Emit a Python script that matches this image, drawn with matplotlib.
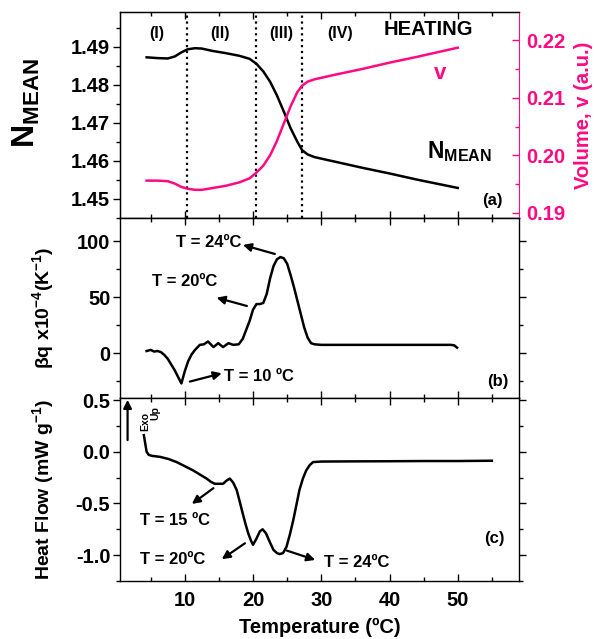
import numpy as np
import matplotlib
matplotlib.use("Agg")
import matplotlib.pyplot as plt
from matplotlib.ticker import MultipleLocator

plt.rcParams['font.family'] = ['Liberation Sans', 'DejaVu Sans']
plt.rcParams['font.weight'] = 'bold'
plt.rcParams['axes.labelweight'] = 'bold'
plt.rcParams['axes.unicode_minus'] = False
plt.rcParams['mathtext.fontset'] = 'custom'
plt.rcParams['mathtext.rm'] = 'Liberation Sans:bold'
plt.rcParams['mathtext.it'] = 'Liberation Sans:bold'
plt.rcParams['mathtext.bf'] = 'Liberation Sans:bold'

pink = '#FF0A82'

# (a) refractive index and volume on heating
T_a = [4.4, 6, 7.5, 8.5, 9.5, 10.4, 11.5, 12.5, 14, 16, 18, 19.5, 20.5, 21.5, 22.5,
       23.5, 24.5, 25.5, 26.5, 27.2, 28, 29, 32, 36, 40, 44, 47, 50]
n_mean = [1.4872, 1.4870, 1.4869, 1.4874, 1.4885, 1.4893, 1.4896, 1.4895, 1.4889, 1.4883,
          1.4876, 1.4868, 1.4855, 1.4835, 1.4808, 1.4772, 1.4730, 1.4686, 1.4650, 1.4628,
          1.4617, 1.4610, 1.4598, 1.4582, 1.4567, 1.4551, 1.4540, 1.4529]
volume = [0.1956, 0.1956, 0.1955, 0.1951, 0.1945, 0.1942, 0.1940, 0.1940, 0.1943, 0.1947,
          0.1953, 0.1960, 0.1970, 0.1982, 0.2000, 0.2025, 0.2055, 0.2085, 0.2110, 0.2121,
          0.2128, 0.2132, 0.2140, 0.2150, 0.2161, 0.2171, 0.2179, 0.2187]
region_bounds = [10.3, 20.5, 27.2]
region_names = ['(I)', '(II)', '(III)', '(IV)']

# (b) thermo-optic coefficient
T_b = [4.4, 5, 5.5, 6, 6.5, 7, 7.5, 8, 8.5, 9, 9.5, 10, 10.5, 11, 11.5, 12.2, 12.8, 13.4,
       14.2, 14.9, 15.6, 16.4, 17.1, 17.9, 18.5, 19, 19.5, 20, 20.5, 21, 21.5, 22, 22.5,
       23, 23.5, 24, 24.5, 25, 25.5, 26, 26.5, 27, 27.5, 28, 28.5, 29, 30, 35, 40, 45, 49,
       49.5, 49.9]
beta_q = [2, 3, 1.5, 2, 1, -1.5, -5, -10, -15, -21, -27, -16, -7, -1, 3, 7.5, 8, 10.5,
          5.5, 9, 5.5, 9, 7.5, 8, 13, 21, 29, 39, 44, 44, 45, 53, 67, 78, 84, 86, 85, 80,
          70, 59, 47, 35, 23, 14, 9, 8, 7.5, 7.5, 7.5, 7.5, 7.5, 7, 5]

# (c) DSC heat flow
T_c = [4.0, 4.2, 4.4, 4.7, 5.2, 6.4, 7.6, 8.8, 10.0, 11.2, 12.2, 13.2, 13.8, 14.4, 15.0,
       15.6, 16.1, 16.6, 17.1, 17.6, 18.0, 18.5, 18.9, 19.3, 19.7, 20.0, 20.5, 21.0, 21.4,
       21.9, 22.5, 23.0, 23.5, 23.9, 24.4, 24.9, 25.4, 25.9, 26.4, 26.8, 27.3, 27.8, 28.3,
       28.8, 30, 35, 40, 45, 50, 55]
heat_flow = [0.16, 0.08, 0.0, -0.03, -0.04, -0.05, -0.07, -0.10, -0.14, -0.18, -0.22, -0.26,
             -0.29, -0.31, -0.31, -0.31, -0.28, -0.26, -0.30, -0.37, -0.47, -0.60, -0.70,
             -0.79, -0.86, -0.90, -0.84, -0.77, -0.75, -0.79, -0.88, -0.95, -0.98, -0.99,
             -0.98, -0.92, -0.80, -0.66, -0.50, -0.37, -0.26, -0.18, -0.13, -0.10, -0.095,
             -0.093, -0.092, -0.09, -0.09, -0.087]

fig = plt.figure(figsize=(5.94, 6.39), dpi=100)
L, W = 0.202, 0.672
ax_a = fig.add_axes([L, 0.6588, W, 0.3224])
ax_b = fig.add_axes([L, 0.3772, W, 0.2817], sharex=ax_a)
ax_c = fig.add_axes([L, 0.0908, W, 0.2864], sharex=ax_a)

fs_tick = 14.5
for ax in (ax_a, ax_b, ax_c):
    ax.tick_params(axis='x', which='both', direction='in', top=True, bottom=True,
                   labelsize=fs_tick, pad=7)
    ax.tick_params(axis='x', which='major', length=5, width=1)
    ax.tick_params(axis='x', which='minor', length=3, width=1)
    ax.tick_params(axis='y', which='both', direction='out', left=True, right=False,
                   labelsize=fs_tick, pad=2)
    ax.tick_params(axis='y', which='major', length=5, width=1)
    ax.tick_params(axis='y', which='minor', length=3, width=1)
    ax.xaxis.set_major_locator(MultipleLocator(10))
    ax.xaxis.set_minor_locator(MultipleLocator(5))
    for s in ax.spines.values():
        s.set_linewidth(1)

ax_a.tick_params(axis='x', labelbottom=False)
ax_b.tick_params(axis='x', labelbottom=False)
ax_b.tick_params(axis='y', which='both', right=True)
ax_c.tick_params(axis='y', which='both', right=True)
ax_a.set_xlim(0.5, 59)

# panel (a)
ax_a.plot(T_a, n_mean, color='black', lw=1.8)
ax_a.set_ylim(1.445, 1.4991)
ax_a.yaxis.set_major_locator(MultipleLocator(0.01))
ax_a.yaxis.set_minor_locator(MultipleLocator(0.005))
for xb in region_bounds:
    ax_a.axvline(xb, color='black', ls=':', lw=1.6)
ax_a.set_ylabel(r'$\mathregular{N_{MEAN}}$', fontsize=23, va='center')
ax_a.yaxis.set_label_coords(-0.235, 0.56)
ax_a.spines['right'].set_visible(False)

ax_v = ax_a.twinx()
ax_v.plot(T_a, volume, color=pink, lw=1.8)
ax_v.set_ylim(0.1891, 0.2249)
ax_v.yaxis.set_major_locator(MultipleLocator(0.01))
ax_v.yaxis.set_minor_locator(MultipleLocator(0.005))
ax_v.tick_params(axis='y', which='both', direction='in', colors=pink, labelsize=fs_tick, pad=5)
ax_v.tick_params(axis='y', which='major', length=5, width=1)
ax_v.tick_params(axis='y', which='minor', length=3, width=1)
ax_v.spines['right'].set_color(pink)
ax_v.set_ylabel('Volume, v (a.u.)', color=pink, fontsize=14.5, va='center', rotation=90)
ax_v.yaxis.set_label_coords(1.16, 0.5)

for name, xf in zip(region_names, [0.093, 0.251, 0.405, 0.551]):
    ax_a.text(xf, 0.897, name, transform=ax_a.transAxes, ha='center', va='center', fontsize=11.5)
ax_a.text(0.772, 0.913, 'HEATING', transform=ax_a.transAxes, ha='center', va='center', fontsize=14.5)
ax_a.text(0.802, 0.70, 'v', transform=ax_a.transAxes, ha='center', va='center', fontsize=16, color=pink)
ax_a.text(0.769, 0.29, r'$\mathregular{N_{MEAN}}$', transform=ax_a.transAxes, ha='left',
          va='baseline', fontsize=16.5)
ax_a.text(0.932, 0.087, '(a)', transform=ax_a.transAxes, ha='center', va='center', fontsize=12)

# panel (b)
ax_b.plot(T_b, beta_q, color='black', lw=1.8)
ax_b.set_ylim(-40, 121)
ax_b.yaxis.set_major_locator(MultipleLocator(50))
ax_b.yaxis.set_minor_locator(MultipleLocator(25))
ax_b.tick_params(axis='y', which='both', labelright=False)
ax_b.set_ylabel(r'βq x10$^{-4}$(K$^{-1}$)', fontsize=14, va='center')
ax_b.yaxis.set_label_coords(-0.193, 0.5)

arrow = dict(arrowstyle='-|>', color='black', lw=1.6, mutation_scale=12, shrinkA=0, shrinkB=0)
ax_b.text(0.221, 0.863, 'T = 24ºC', transform=ax_b.transAxes, ha='center', va='center', fontsize=12)
ax_b.annotate('', xy=(0.308, 0.85), xytext=(0.388, 0.80), xycoords='axes fraction', arrowprops=arrow)
ax_b.text(0.161, 0.646, 'T = 20ºC', transform=ax_b.transAxes, ha='center', va='center', fontsize=12)
ax_b.annotate('', xy=(0.242, 0.557), xytext=(0.318, 0.511), xycoords='axes fraction', arrowprops=arrow)
ax_b.text(0.348, 0.118, 'T = 10 ºC', transform=ax_b.transAxes, ha='center', va='center', fontsize=12)
ax_b.annotate('', xy=(0.255, 0.137), xytext=(0.175, 0.091), xycoords='axes fraction', arrowprops=arrow)
ax_b.text(0.947, 0.091, '(b)', transform=ax_b.transAxes, ha='center', va='center', fontsize=12)

# panel (c)
ax_c.plot(T_c, heat_flow, color='black', lw=1.8)
ax_c.set_ylim(-1.25, 0.52)
ax_c.yaxis.set_major_locator(MultipleLocator(0.5))
ax_c.yaxis.set_minor_locator(MultipleLocator(0.25))
ax_c.tick_params(axis='y', which='both', labelright=False)
ax_c.set_ylabel('Heat Flow (mW g$^{-1}$)', fontsize=14, va='center')
ax_c.yaxis.set_label_coords(-0.193, 0.5)
ax_c.set_xlabel('Temperature (ºC)', fontsize=14.5, va='center')
ax_c.xaxis.set_label_coords(0.5, -0.252)

ax_c.annotate('', xy=(0.019, 0.99), xytext=(0.019, 0.77), xycoords='axes fraction', arrowprops=arrow)
ax_c.text(0.063, 0.871, 'Exo', transform=ax_c.transAxes, ha='center', va='center', fontsize=7.5, rotation=90)
ax_c.text(0.088, 0.920, 'Up', transform=ax_c.transAxes, ha='center', va='center', fontsize=7.5, rotation=90)
ax_c.text(0.137, 0.333, 'T = 15 ºC', transform=ax_c.transAxes, ha='center', va='center', fontsize=12)
ax_c.annotate('', xy=(0.180, 0.421), xytext=(0.234, 0.507), xycoords='axes fraction', arrowprops=arrow)
ax_c.text(0.131, 0.119, 'T = 20ºC', transform=ax_c.transAxes, ha='center', va='center', fontsize=12)
ax_c.annotate('', xy=(0.255, 0.119), xytext=(0.313, 0.206), xycoords='axes fraction', arrowprops=arrow)
ax_c.text(0.593, 0.100, 'T = 24ºC', transform=ax_c.transAxes, ha='center', va='center', fontsize=12)
ax_c.annotate('', xy=(0.489, 0.115), xytext=(0.418, 0.166), xycoords='axes fraction', arrowprops=arrow)
ax_c.text(0.938, 0.233, '(c)', transform=ax_c.transAxes, ha='center', va='center', fontsize=12)

fig.savefig('out.png', dpi=100)
